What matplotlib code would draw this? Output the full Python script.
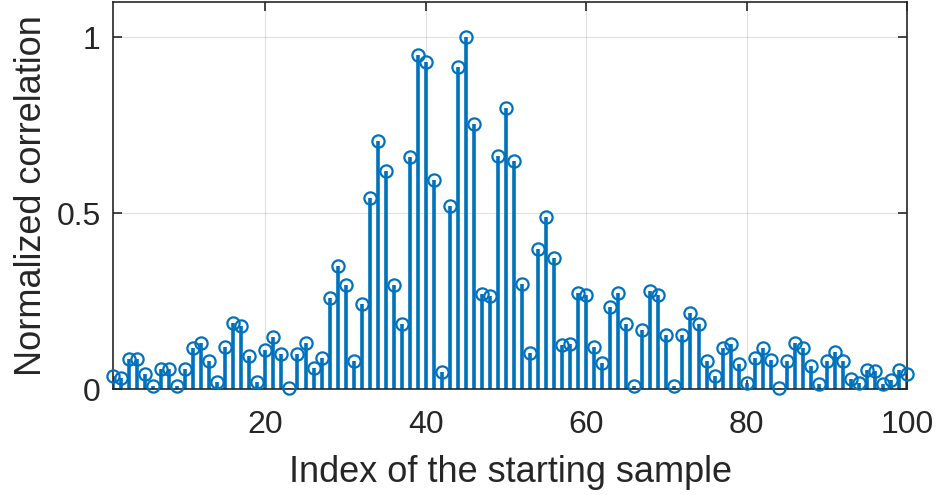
import numpy as np
import matplotlib.pyplot as plt

plt.rcParams['font.family'] = ['Liberation Sans', 'DejaVu Sans']

# starting sample index and normalized correlation value
idx = np.arange(1, 101)
corr = [0.038, 0.032, 0.084, 0.084, 0.043, 0.010, 0.058, 0.058, 0.010, 0.058,
        0.117, 0.132, 0.080, 0.019, 0.120, 0.187, 0.179, 0.093, 0.019, 0.111,
        0.149, 0.099, 0.002, 0.099, 0.132, 0.061, 0.088, 0.259, 0.350, 0.295,
        0.079, 0.241, 0.543, 0.705, 0.621, 0.295, 0.186, 0.658, 0.948, 0.929,
        0.593, 0.047, 0.520, 0.915, 1.000, 0.754, 0.271, 0.264, 0.663, 0.800,
        0.649, 0.299, 0.103, 0.397, 0.488, 0.373, 0.125, 0.127, 0.272, 0.268,
        0.120, 0.075, 0.232, 0.272, 0.186, 0.010, 0.167, 0.278, 0.268, 0.154,
        0.010, 0.154, 0.217, 0.186, 0.080, 0.037, 0.117, 0.127, 0.070, 0.016,
        0.087, 0.117, 0.082, 0.003, 0.080, 0.130, 0.117, 0.065, 0.013, 0.080,
        0.106, 0.080, 0.029, 0.016, 0.055, 0.051, 0.013, 0.026, 0.053, 0.043]

blue = '#0072BD'
dark = '#262626'

fig = plt.figure(figsize=(9.38, 4.95), dpi=100)
ax = fig.add_axes([0.1205, 0.2141, 0.8465, 0.7819])

markerline, stemlines, baseline = ax.stem(idx, corr, basefmt=' ')
plt.setp(stemlines, color=blue, linewidth=2.6)
plt.setp(markerline, color=blue, marker='o', markersize=8.8,
         markerfacecolor='none', markeredgewidth=1.6, clip_on=False, zorder=3)

ax.set_xlim(1, 100)
ax.set_ylim(0, 1.1)
ax.set_xticks([20, 40, 60, 80, 100])
ax.set_yticks([0, 0.5, 1])
ax.set_yticklabels(['0', '0.5', '1'])

ax.grid(True, color='#000000', alpha=0.12, linewidth=0.8)
ax.set_axisbelow(True)
for s in ax.spines.values():
    s.set_color(dark)
    s.set_linewidth(1.2)
ax.tick_params(direction='in', length=6.5, width=1.2, colors=dark,
               labelsize=23, top=True, right=True)
ax.tick_params(axis='x', pad=15)
ax.tick_params(axis='y', pad=9)

ax.set_xlabel('Index of the starting sample', fontsize=26, color=dark, labelpad=11)
ax.set_ylabel('Normalized correlation', fontsize=26, color=dark, labelpad=5)

fig.savefig('out.png', dpi=100)
